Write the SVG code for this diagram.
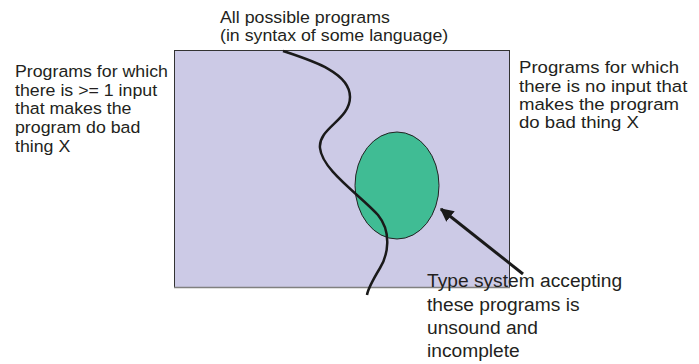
<svg xmlns="http://www.w3.org/2000/svg" width="699" height="364" viewBox="0 0 699 364">
<style>
.t{font-family:"Liberation Sans",Arial,sans-serif;fill:#231f20}
.s{font-size:16.5px}
.b{font-size:19.2px}
</style>
<defs>
<marker id="ah" viewBox="0 0 10 10" refX="9" refY="5" markerWidth="4.5" markerHeight="4.5" orient="auto" markerUnits="strokeWidth">
<path d="M0,0 L10,5 L0,10 z" fill="#1a1a1a"/>
</marker>
</defs>
<rect width="699" height="364" fill="#fff"/>
<g id="universe">
<rect x="174.5" y="50.5" width="335" height="237" fill="#cccae6" stroke="#333" stroke-width="1"/>
<line x1="174" y1="287.5" x2="510" y2="287.5" stroke="#808080" stroke-width="1.5"/>
</g>
<g id="typesystem">
<ellipse cx="397" cy="185.5" rx="42" ry="53.5" fill="#40bc94" stroke="#222" stroke-width="1"/>
</g>
<g id="connectors">
<path d="M283,51 C310,60 350,72 350,97 C350,120 318,128 320,148 C322,170 360,195 378,215 C392,232 388,255 380,268 C374,278 368,288 367,295" fill="none" stroke="#1a1a1a" stroke-width="2.5"/>
<line x1="523" y1="274" x2="441" y2="209" stroke="#1a1a1a" stroke-width="3" marker-end="url(#ah)"/>
</g>
<g id="label-all" transform="translate(220 0) scale(1.078 1)">
<text class="t s" x="0" y="23">All possible programs</text>
<text class="t s" x="0" y="41">(in syntax of some language)</text>
</g>
<g id="label-left" transform="translate(15 0) scale(1.077 1)">
<text class="t s" x="0" y="77">Programs for which</text>
<text class="t s" x="0" y="95.7">there is &gt;= 1 input</text>
<text class="t s" x="0" y="114.4">that makes the</text>
<text class="t s" x="0" y="133.1">program do bad</text>
<text class="t s" x="0" y="151.8">thing X</text>
</g>
<g id="label-right" transform="translate(519 0) scale(1.127 1)">
<text class="t s" x="0" y="73.3">Programs for which</text>
<text class="t s" x="0" y="91.6">there is no input that</text>
<text class="t s" x="0" y="109.9">makes the program</text>
<text class="t s" x="0" y="128.2">do bad thing X</text>
</g>
<g id="label-bottom">
<text class="t b" x="427" y="287.3">Type system accepting</text>
<text class="t b" x="427" y="310.6">these programs is</text>
<text class="t b" x="427" y="333.9">unsound and</text>
<text class="t b" x="427" y="357.2">incomplete</text>
</g>
</svg>
